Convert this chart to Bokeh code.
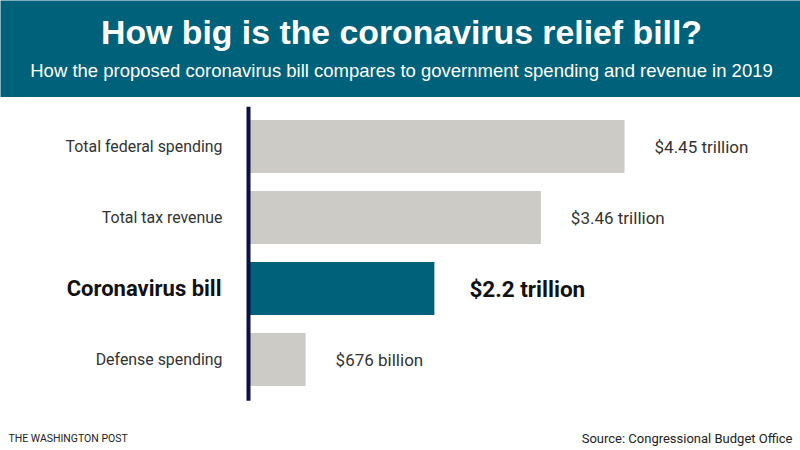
from bokeh.plotting import figure
from bokeh.models import Range1d, Label, ColumnDataSource
from bokeh.layouts import column
from bokeh.embed import file_html
from bokeh.resources import INLINE
from bokeh.core.properties import value

# ---- data ----
categories = ["Total federal spending", "Total tax revenue", "Coronavirus bill", "Defense spending"]
values = [4.45, 3.46, 2.2, 0.676]
value_labels = ["$4.45 trillion", "$3.46 trillion", "$2.2 trillion", "$676 billion"]
highlight = [False, False, True, False]

title_text = "How big is the coronavirus relief bill?"
subtitle_text = "How the proposed coronavirus bill compares to government spending and revenue in 2019"
credit_text = "THE WASHINGTON POST"
source_text = "Source: Congressional Budget Office"

TEAL = "#00627a"
GRAY = "#cccbc6"
NAVY = "#0b1046"

# ---- banner ----
banner = figure(width=800, height=97, x_range=Range1d(0, 800), y_range=Range1d(0, 97),
                output_backend="svg", toolbar_location=None, min_border=0,
                background_fill_color=TEAL, border_fill_color=TEAL, outline_line_color=None)
banner.axis.visible = False
banner.grid.visible = False
banner.add_layout(Label(x=401, y=66, text=title_text, text_align="center", text_baseline="middle",
                        text_color="white", text_font="Liberation Sans", text_font_style="bold",
                        text_font_size="33.8px"))
banner.add_layout(Label(x=401, y=27, text=subtitle_text, text_align="center", text_baseline="middle",
                        text_color="white", text_font="Liberation Sans",
                        text_font_size="18.5px"))

# ---- chart ----
H = 353
px_per_unit_x = 84.5
x0_px = 248
px_per_cat = 71
first_center_px = 49
E = -first_center_px / px_per_cat
S = E + H / px_per_cat

p = figure(width=800, height=H, output_backend="svg", toolbar_location=None, min_border=0,
           x_range=Range1d(-x0_px / px_per_unit_x, (800 - x0_px) / px_per_unit_x),
           y_range=Range1d(S, E), outline_line_color=None, background_fill_color="white")
p.axis.visible = False
p.grid.visible = False

n = len(categories)
ys = list(range(n))
src = ColumnDataSource(dict(
    y=ys, v=values, cat=categories, lab=value_labels,
    color=[TEAL if h else GRAY for h in highlight],
))
p.hbar(y="y", left=0, right="v", height=53 / px_per_cat, fill_color="color", line_color=None, source=src)

# axis line
p.segment(x0=[0], x1=[0], y0=[-0.56], y1=[n - 1 + 0.58], line_color=NAVY, line_width=4)

norm = [i for i in range(n) if not highlight[i]]
bold = [i for i in range(n) if highlight[i]]
src_n = ColumnDataSource(dict(y=[ys[i] for i in norm], v=[values[i] for i in norm],
                              cat=[categories[i] for i in norm], lab=[value_labels[i] for i in norm]))
src_b = ColumnDataSource(dict(y=[ys[i] for i in bold], v=[values[i] for i in bold],
                              cat=[categories[i] for i in bold], lab=[value_labels[i] for i in bold]))

p.text(x=0, y="y", text="cat", source=src_n, x_offset=-26, text_align="right", text_baseline="middle",
       text_font=value("Roboto"), text_font_size="15.9px", text_color="#333333")
p.text(x=0, y="y", text="cat", source=src_b, x_offset=-27, text_align="right", text_baseline="middle",
       text_font=value("Roboto"), text_font_style="bold", text_font_size="22px", text_color="#111111")
p.text(x="v", y="y", text="lab", source=src_n, x_offset=30, text_align="left", text_baseline="middle",
       text_font=value("Roboto"), text_font_size="17px", text_color="#333333")
p.text(x="v", y="y", text="lab", source=src_b, x_offset=35, text_align="left", text_baseline="middle",
       text_font=value("Roboto"), text_font_style="bold", text_font_size="22.5px", text_color="#111111")

# footer
y_foot = E + (438 - 97) / px_per_cat
p.add_layout(Label(x=(8 - x0_px) / px_per_unit_x, y=y_foot, text=credit_text, text_align="left",
                   text_baseline="middle", text_font="Roboto",
                   text_font_size="10.5px", text_color="#222222"))
p.add_layout(Label(x=(792 - x0_px) / px_per_unit_x, y=y_foot, text=source_text, text_align="right",
                   text_baseline="middle", text_font="Roboto",
                   text_font_size="13px", text_color="#222222"))

layout = column(banner, p, spacing=0)
open("out.html", "w").write(file_html(layout, INLINE))
